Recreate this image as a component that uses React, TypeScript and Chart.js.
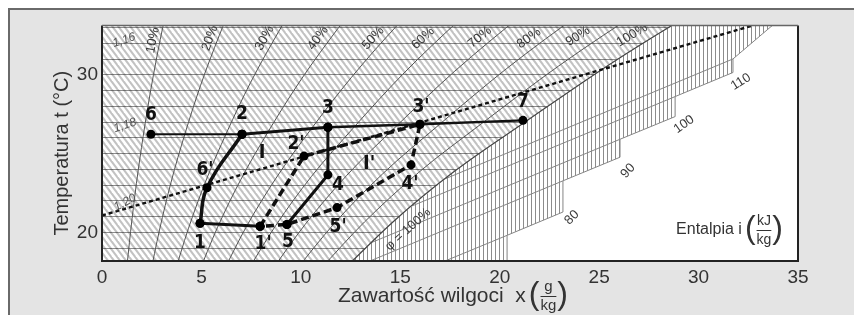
import React, { useEffect, useRef } from 'react';
import { Chart, registerables } from 'chart.js';

Chart.register(...registerables);

// ---------- axes ----------
const xRange = [0, 35];
const tRange = [18.18, 33.14];
const xTickStep = 5;
const tGridStep = 1;
const tLabelledTicks = [20, 30];

// ---------- relative humidity curves [x g/kg, t °C] ----------
const rhNames = ['10%', '20%', '30%', '40%', '50%', '60%', '70%', '80%', '90%', '100%'];
const rh10 = [[1.19, 17.06], [1.44, 20.07], [1.73, 23.09], [2.07, 26.10], [2.47, 29.17], [2.93, 32.25], [3.28, 34.32]];
const rh20 = [[2.39, 17.12], [2.89, 20.14], [3.47, 23.17], [4.16, 26.21], [4.96, 29.34], [5.90, 32.51], [6.60, 34.65]];
const rh30 = [[3.59, 17.18], [4.34, 20.22], [5.22, 23.26], [6.26, 26.31], [7.47, 29.51], [8.89, 32.76], [9.95, 34.98]];
const rh40 = [[4.80, 17.24], [5.80, 20.29], [6.98, 23.35], [8.37, 26.42], [10.00, 29.68], [11.91, 33.02], [13.34, 35.31]];
const rh50 = [[6.01, 17.30], [7.26, 20.36], [8.75, 23.44], [10.50, 26.53], [12.55, 29.85], [14.95, 33.29], [16.77, 35.64]];
const rh60 = [[7.22, 17.36], [8.74, 20.44], [10.52, 23.53], [12.64, 26.63], [15.12, 30.03], [18.03, 33.55], [20.23, 35.98]];
const rh70 = [[8.44, 17.42], [10.22, 20.51], [12.31, 23.62], [14.80, 26.74], [17.71, 30.20], [21.14, 33.82], [23.73, 36.33]];
const rh80 = [[9.67, 17.48], [11.70, 20.59], [14.11, 23.71], [16.97, 26.85], [20.33, 30.38], [24.28, 34.09], [27.27, 36.67]];
const rh90 = [[10.89, 17.54], [13.20, 20.66], [15.92, 23.80], [19.15, 26.96], [22.96, 30.56], [27.45, 34.36], [30.85, 37.02]];
const rh100 = [[12.13, 17.61], [14.70, 20.74], [17.74, 23.89], [21.35, 27.07], [25.62, 30.74], [30.65, 34.64], [34.47, 37.38]];

// ---------- process points ----------
const pointNames = ['1', "1'", '2', "2'", '3', "3'", '4', "4'", '5', "5'", '6', "6'", '7'];
const pointX = [4.93, 7.95, 7.04, 10.16, 11.36, 15.99, 11.36, 15.54, 9.30, 11.82, 2.46, 5.28, 21.17];
const pointT = [20.57, 20.38, 26.23, 24.84, 26.67, 26.86, 23.65, 24.28, 20.50, 21.57, 26.23, 22.83, 27.11];

// process paths (by point name)
const pathHeat62 = ['6', '2'];
const pathHeat23 = ['2', '3'];
const path337 = ['3', "3'", '7'];
const pathCurve = ['1', "6'", '2'];
const path11 = ['1', "1'"];
const path543 = ['5', '4', '3'];
const pathCycleB = ["1'", "2'", "3'", "4'", "5'", '5', "1'"];

// mixing (dotted) line
const mixX = [0, 32.74];
const mixT = [21.07, 33.14];

// fog region: staircase edge towards the blank area
const fogStepX = [20.37, 20.37, 23.18, 23.18, 26.05, 26.05, 28.82, 28.82, 31.73, 31.73, 33.89];
const fogStepT = [18.05, 19.81, 21.29, 23.27, 24.77, 25.91, 27.35, 28.62, 30.15, 31.01, 33.33];
// fog band lines [x1,t1,x2,t2]
const fogBand0 = [20.37, 19.81, 17.00, 18.05];
const fogBand1 = [23.18, 23.27, 13.23, 18.05];
const fogBand2 = [26.05, 25.91, 13.55, 19.35];
const fogBand3 = [28.82, 28.62, 15.60, 21.68];
const fogBand4 = [31.73, 31.01, 17.28, 23.41];

// enthalpy / density labels
const enthalpyNames = ['80', '90', '100', '110'];
const densityNames = ['1,16', '1,18', '1,20'];

// ---------- layout of annotations (not data) ----------
const rhLabelAt = [[2.56, 32.20], [5.43, 32.33], [8.18, 32.33], [10.86, 32.33], [13.63, 32.33], [16.14, 32.33], [19.0, 32.39], [21.47, 32.33], [23.93, 32.45], [26.65, 32.52]];
const rhLabelAngle = [-79, -70, -61, -54, -48, -43, -39, -36, -33, -31];
const enthalpyLabelAt = [[23.63, 20.94], [26.45, 23.9], [29.27, 26.86], [32.13, 29.56]];
const enthalpyLabelAngle = [-45, -48, -35, -32];
const densityLabelAt = [[1.11, 32.2], [1.16, 26.79], [1.16, 21.89]];
const densityLabelAngle = [-18, -18, -28];
const pointLabelOffset: Record<string, number[]> = {
  '1': [0, 20], "1'": [3, 18], '5': [1, 18], "5'": [1, 19], '4': [10, 10], "4'": [-1, 19],
  "6'": [-2, -18], '6': [0, -19], '2': [0, -20], "2'": [-8, -12], '3': [0, -19], "3'": [1, -17], '7': [0, -18],
};
const romanLabels = [['I', 8.05, 25.03], ["I'", 13.43, 24.34]];
const phiLabel = ['\u03C6 = 100%', 15.39, 20.19, -42];

const FONT = '"Liberation Sans", Arial, sans-serif';
const NARROW = '"Liberation Sans Narrow", "DejaVu Sans Condensed", "Liberation Sans", sans-serif';

const xy = (list: number[][]) => list.map(([x, y]) => ({ x, y }));
const byName = (names: string[]) =>
  names.map((n) => {
    const i = pointNames.indexOf(n);
    return { x: pointX[i], y: pointT[i] };
  });

function hatchPattern(): any {
  const c = document.createElement('canvas');
  c.width = 6;
  c.height = 8;
  const g = c.getContext('2d')!;
  g.strokeStyle = 'rgba(0,0,0,0.24)';
  g.lineWidth = 2.1;
  for (const dx of [-12, -6, 0, 6, 12]) {
    g.beginPath();
    g.moveTo(dx - 6, -8);
    g.lineTo(dx + 12, 16);
    g.stroke();
  }
  return g.createPattern(c, 'repeat');
}

function fogPattern(): any {
  const c = document.createElement('canvas');
  c.width = 4;
  c.height = 4;
  const g = c.getContext('2d')!;
  g.fillStyle = '#ffffff';
  g.fillRect(0, 0, 4, 4);
  g.fillStyle = '#8c8c8c';
  g.fillRect(1, 0, 1, 4);
  return g.createPattern(c, 'repeat');
}

function txt(ctx: any, s: string, x: number, y: number, font: string, color: string, angle = 0, align = 'center') {
  ctx.save();
  ctx.translate(x, y);
  ctx.rotate((angle * Math.PI) / 180);
  ctx.font = font;
  ctx.fillStyle = color;
  ctx.textAlign = align;
  ctx.textBaseline = 'middle';
  ctx.fillText(s, 0, 0);
  ctx.restore();
}

function unitLabel(ctx: any, lead: string, num: string, den: string, x: number, yMid: number,
  leadFont: string, fracFont: string, parenFont: string, color: string, draw: boolean) {
  ctx.save();
  ctx.fillStyle = color;
  ctx.strokeStyle = color;
  ctx.textBaseline = 'middle';
  ctx.textAlign = 'left';
  ctx.font = leadFont;
  const wLead = ctx.measureText(lead).width;
  ctx.font = parenFont;
  const wParen = ctx.measureText('(').width;
  ctx.font = fracFont;
  const wFrac = Math.max(ctx.measureText(num).width, ctx.measureText(den).width);
  const total = wLead + 3 + wParen + 1 + wFrac + 1 + wParen;
  if (draw) {
    let cx = x;
    ctx.font = leadFont;
    ctx.fillText(lead, cx, yMid);
    cx += wLead + 3;
    ctx.font = parenFont;
    ctx.fillText('(', cx, yMid - 1);
    cx += wParen + 1;
    ctx.font = fracFont;
    ctx.textAlign = 'center';
    ctx.fillText(num, cx + wFrac / 2, yMid - 9);
    ctx.fillText(den, cx + wFrac / 2, yMid + 10);
    ctx.lineWidth = 1;
    ctx.beginPath();
    ctx.moveTo(cx, yMid + 0.5);
    ctx.lineTo(cx + wFrac, yMid + 0.5);
    ctx.stroke();
    cx += wFrac + 1;
    ctx.textAlign = 'left';
    ctx.font = parenFont;
    ctx.fillText(')', cx, yMid - 1);
  }
  ctx.restore();
  return total;
}

const decorPlugin = {
  id: 'decor',
  beforeDraw(chart: any) {
    const { ctx, chartArea: a } = chart;
    ctx.save();
    ctx.fillStyle = '#ffffff';
    ctx.fillRect(a.left, a.top, a.right - a.left, a.bottom - a.top);
    ctx.restore();
  },
  afterDatasetsDraw(chart: any) {
    const { ctx } = chart;
    const sx = chart.scales.x;
    const sy = chart.scales.y;
    const px = (v: number) => sx.getPixelForValue(v);
    const py = (v: number) => sy.getPixelForValue(v);
    const a = chart.chartArea;
    ctx.save();
    ctx.beginPath();
    ctx.rect(a.left, a.top, a.right - a.left, a.bottom - a.top);
    ctx.clip();
    rhNames.forEach((n, i) => {
      txt(ctx, n, px(rhLabelAt[i][0]), py(rhLabelAt[i][1]), `13px ${FONT}`, '#3a3a3a', rhLabelAngle[i]);
    });
    enthalpyNames.forEach((n, i) => {
      txt(ctx, n, px(enthalpyLabelAt[i][0]), py(enthalpyLabelAt[i][1]), `13px ${FONT}`, '#3a3a3a', enthalpyLabelAngle[i]);
    });
    densityNames.forEach((n, i) => {
      txt(ctx, n, px(densityLabelAt[i][0]), py(densityLabelAt[i][1]), `italic 12px ${FONT}`, '#555', densityLabelAngle[i]);
    });
    txt(ctx, phiLabel[0] as string, px(phiLabel[1] as number), py(phiLabel[2] as number), `13px ${FONT}`, '#3a3a3a', phiLabel[3] as number);
    pointNames.forEach((n, i) => {
      const off = pointLabelOffset[n];
      txt(ctx, n, px(pointX[i]) + off[0], py(pointT[i]) + off[1], `bold 19px ${NARROW}`, '#111');
    });
    romanLabels.forEach(([s, x, t]) => {
      txt(ctx, s as string, px(x as number), py(t as number), `bold 20px ${NARROW}`, '#111');
    });
    const wEnt = unitLabel(ctx, 'Entalpia i', 'kJ', 'kg', 0, 0, `16px ${FONT}`, `14px ${FONT}`, `32px ${FONT}`, '#333', false);
    unitLabel(ctx, 'Entalpia i', 'kJ', 'kg', a.right - 15 - wEnt, a.bottom - 31, `16px ${FONT}`, `14px ${FONT}`, `32px ${FONT}`, '#333', true);
    ctx.restore();
  },
  afterDraw(chart: any) {
    const { ctx } = chart;
    const a = chart.chartArea;
    ctx.save();
    ctx.strokeStyle = '#222';
    ctx.lineWidth = 2;
    ctx.beginPath();
    ctx.moveTo(a.left, a.top);
    ctx.lineTo(a.left, a.bottom);
    ctx.lineTo(a.right, a.bottom);
    ctx.lineTo(a.right, a.top);
    ctx.stroke();
    ctx.strokeStyle = '#666';
    ctx.lineWidth = 1.5;
    ctx.beginPath();
    ctx.moveTo(a.left, a.top);
    ctx.lineTo(a.right, a.top);
    ctx.stroke();
    // axis titles
    txt(ctx, 'Temperatura t (\u00B0C)', a.left - 40, (a.top + a.bottom) / 2 + 10, `20px ${FONT}`, '#333', -90);
    const lead = 'Zawarto\u015B\u0107 wilgoci  x';
    const w = unitLabel(ctx, lead, 'g', 'kg', 0, 0, `21px ${FONT}`, `15px ${FONT}`, `32px ${FONT}`, '#333', false);
    unitLabel(ctx, lead, 'g', 'kg', (a.left + a.right) / 2 + 3 - w / 2, a.bottom + 35, `21px ${FONT}`, `15px ${FONT}`, `32px ${FONT}`, '#333', true);
    ctx.restore();
  },
};

export default function App() {
  const ref = useRef<HTMLCanvasElement>(null);
  useEffect(() => {
    const canvas = ref.current!;
    const hatch = hatchPattern();
    const fog = fogPattern();

    const unsatPolygon = [[xRange[0] - 1, tRange[0] - 1], [xRange[0] - 1, tRange[1] + 5], ...rh100.slice().reverse()];
    const fogPolygon = [[xRange[1] + 5, tRange[0] - 1], ...rh100, [xRange[1] + 5, tRange[1] + 5]];
    const stairs = fogStepX.map((x, i) => [x, fogStepT[i]]);
    const blankPolygon = [[xRange[1] + 2, tRange[0] - 0.2], ...stairs, [xRange[1] + 2, tRange[1] + 0.3]];
    const bands = [fogBand0, fogBand1, fogBand2, fogBand3, fogBand4];
    const rhCurves = [rh10, rh20, rh30, rh40, rh50, rh60, rh70, rh80, rh90, rh100];

    const datasets: any[] = [];
    datasets.push({ data: xy(unsatPolygon), fill: 'shape', backgroundColor: hatch, borderColor: 'rgba(0,0,0,0)', borderWidth: 1, clip: false, order: 100 });
    datasets.push({ data: xy(fogPolygon), fill: 'shape', backgroundColor: fog, borderColor: 'rgba(0,0,0,0)', borderWidth: 1, clip: false, order: 99 });
    bands.forEach((b) => {
      datasets.push({ data: [{ x: b[0], y: b[1] }, { x: b[2], y: b[3] }], borderColor: '#858585', borderWidth: 1, order: 98 });
    });
    datasets.push({ data: xy(blankPolygon), fill: 'shape', backgroundColor: '#ffffff', borderColor: 'rgba(0,0,0,0)', borderWidth: 1, clip: false, order: 97 });
    datasets.push({ data: xy(stairs), borderColor: '#858585', borderWidth: 1, order: 96 });
    rhCurves.forEach((c, i) => {
      datasets.push({ data: xy(c), borderColor: i === 9 ? '#444' : '#555', borderWidth: i === 9 ? 1.2 : 1, cubicInterpolationMode: 'monotone', order: 90 });
    });
    datasets.push({ data: mixX.map((x, i) => ({ x, y: mixT[i] })), borderColor: '#111', borderWidth: 2.4, borderDash: [4, 3], order: 50 });

    const proc = (names: string[], width: number, extra: any = {}) => ({
      data: byName(names), borderColor: '#111', borderWidth: width, pointRadius: 4.5, pointBackgroundColor: '#000',
      pointBorderWidth: 0, order: 10, ...extra,
    });
    datasets.push(proc(pathCycleB, 3.5, { borderDash: [8, 4], order: 12 }));
    datasets.push(proc(pathHeat62, 2));
    datasets.push(proc(pathHeat23, 3));
    datasets.push(proc(path337, 2.4));
    datasets.push(proc(pathCurve, 3.5, { tension: 0.45 }));
    datasets.push(proc(path11, 3));
    datasets.push(proc(path543, 3));

    const chart = new Chart(canvas, {
      type: 'line',
      data: { datasets },
      options: {
        responsive: false,
        animation: false,
        events: [],
        layout: { padding: { top: 13, right: 64, left: 0, bottom: 0 } },
        elements: { point: { radius: 0 }, line: { tension: 0 } },
        plugins: { legend: { display: false }, tooltip: { enabled: false } },
        scales: {
          x: {
            type: 'linear',
            min: xRange[0],
            max: xRange[1],
            ticks: { stepSize: xTickStep, autoSkip: false, maxRotation: 0, padding: -3, color: '#333', font: { family: FONT, size: 19 } },
            grid: { display: false },
            border: { display: false },
            afterFit: (s: any) => { s.height = 54; },
          },
          y: {
            type: 'linear',
            min: tRange[0],
            max: tRange[1],
            ticks: {
              stepSize: tGridStep, includeBounds: false, autoSkip: false, padding: 4, color: '#333',
              font: { family: FONT, size: 19 },
              callback: (v: any) => (tLabelledTicks.includes(Math.round(v * 100) / 100) ? String(v) : ''),
            },
            grid: { color: '#8c8c8c', lineWidth: 1, drawTicks: false },
            border: { display: false },
            afterFit: (s: any) => { s.width = 92; },
          },
        },
      } as any,
      plugins: [decorPlugin],
    });
    return () => chart.destroy();
  }, []);
  return (
    <div style={{ width: 852, height: 305, background: '#e4e4e4', borderTop: '2px solid #6a6a6a', borderLeft: '2px solid #6a6a6a' }}>
      <canvas ref={ref} width={852} height={305} style={{ display: 'block' }} />
    </div>
  );
}
